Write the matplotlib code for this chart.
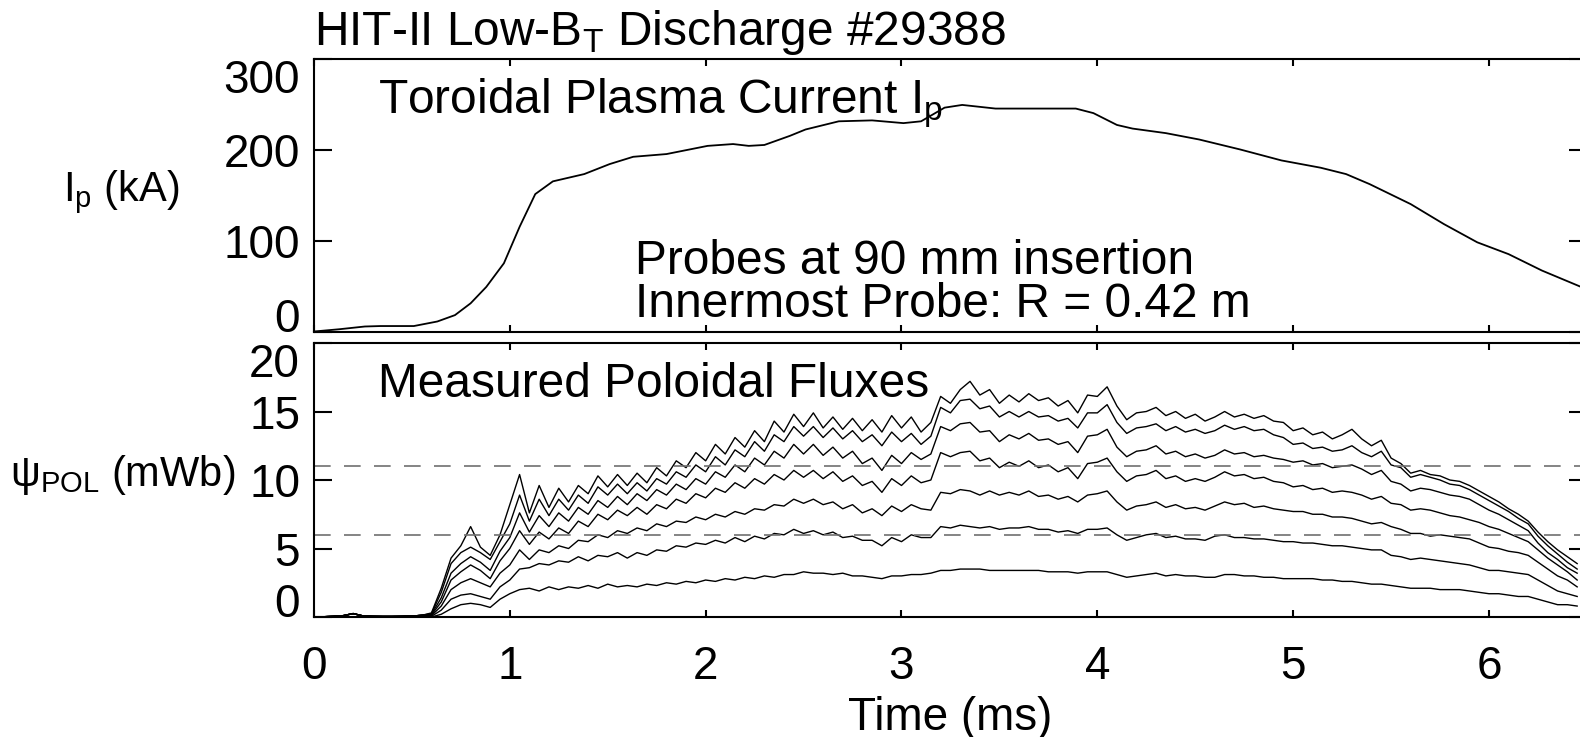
import numpy as np
import matplotlib
matplotlib.use("Agg")
import matplotlib.pyplot as plt

plt.rcParams['font.family'] = 'Liberation Sans'
plt.rcParams['mathtext.fontset'] = 'custom'
plt.rcParams['mathtext.rm'] = 'Liberation Sans'
plt.rcParams['mathtext.it'] = 'Liberation Sans:italic'

# Corrente de plasma (kA)
ip_t = [0.0, 0.13, 0.26, 0.34, 0.51, 0.63, 0.72, 0.80, 0.88, 0.97,
        1.05, 1.13, 1.22, 1.38, 1.51, 1.63, 1.80, 2.01, 2.14, 2.22,
        2.30, 2.43, 2.51, 2.68, 2.85, 3.01, 3.10, 3.22, 3.31, 3.48,
        3.68, 3.89, 3.98, 4.10, 4.18, 4.35, 4.52, 4.73, 4.94, 5.14,
        5.27, 5.39, 5.60, 5.77, 5.94, 6.10, 6.27, 6.47]
ip_ka = [0, 2.5, 5.5, 6, 6, 11, 18, 31, 49, 75,
         115, 151, 165, 173, 184, 192, 195, 204, 206, 204,
         205, 215, 222, 231, 232, 229, 231, 246, 249, 245,
         245, 245, 240, 227, 223, 218, 211, 200, 188, 180,
         173, 162, 140, 118, 98, 85, 67, 49]

# Fluxos poloidais (mWb), amostrados a cada 0.05 ms de 0 a 6.45 ms
t_flux = np.linspace(0, 6.45, 130)
pre = [0.0, 0.02, 0.05, 0.1, 0.25, 0.08, 0.05, 0.04, 0.04, 0.05, 0.07, 0.12]

flux_a = pre + [
    0.3, 2.1, 4.3, 5.2, 6.6, 5.1, 4.5, 6.0, 8.2, 10.4,
    7.6, 9.6, 8.0, 9.4, 8.4, 9.6, 9.0, 10.3, 9.5, 10.4,
    9.6, 10.5, 9.8, 10.9, 10.3, 11.4, 10.9, 12.0, 11.4, 12.6,
    11.9, 13.1, 12.4, 13.6, 12.8, 14.3, 13.5, 14.8, 13.9, 14.9,
    13.8, 14.6, 13.7, 14.5, 13.6, 14.4, 13.5, 14.7, 13.8, 14.6,
    13.5, 14.2, 16.1, 15.6, 16.6, 17.2, 16.2, 16.6, 15.6, 16.2,
    15.7, 16.3, 15.8, 16.0, 15.4, 15.8, 14.9, 16.2, 16.1, 16.8,
    15.4, 14.4, 14.9, 15.0, 15.3, 14.7, 15.0, 14.5, 14.8, 14.3,
    14.6, 15.0, 14.6, 14.8, 14.5, 14.7, 14.3, 14.2, 13.6, 13.8,
    13.3, 13.5, 13.0, 13.3, 13.7, 13.0, 12.5, 12.9, 11.6, 11.2,
    10.5, 10.7, 10.4, 10.3, 10.0, 9.9, 9.6, 9.2, 8.8, 8.4,
    7.9, 7.5, 7.0, 6.2, 5.5, 4.9, 4.4, 3.9]
flux_b = pre + [
    0.25, 1.8, 3.9, 4.7, 5.1, 4.7, 4.2, 5.5, 6.8, 8.9,
    7.0, 8.6, 7.4, 8.6, 7.8, 8.9, 8.3, 9.5, 8.9, 9.7,
    9.0, 9.8, 9.2, 10.1, 9.7, 10.6, 10.2, 11.1, 10.6, 11.7,
    11.1, 12.2, 11.7, 12.8, 12.1, 13.3, 12.8, 13.9, 13.2, 13.9,
    13.1, 13.8, 13.0, 13.6, 12.8, 13.3, 12.5, 13.5, 12.8, 13.4,
    12.6, 13.2, 15.3, 14.9, 15.8, 15.9, 15.2, 15.4, 14.6, 15.0,
    14.6, 15.0, 14.6, 14.7, 14.3, 14.5, 13.8, 14.9, 14.9, 15.5,
    14.2, 13.4, 13.8, 13.9, 14.1, 13.6, 13.9, 13.5, 13.7, 13.4,
    13.6, 14.0, 13.7, 13.9, 13.6, 13.7, 13.3, 13.1, 12.6, 12.7,
    12.3, 12.4, 12.1, 12.2, 12.5, 12.0, 11.7, 12.1, 11.1, 10.9,
    10.2, 10.4, 10.2, 10.0, 9.7, 9.6, 9.3, 8.9, 8.5, 8.1,
    7.7, 7.2, 6.8, 5.9, 5.2, 4.6, 4.0, 3.5]
flux_c = pre + [
    0.2, 1.4, 3.2, 3.9, 4.4, 4.0, 3.4, 4.8, 5.8, 7.6,
    6.2, 7.4, 6.6, 7.6, 7.0, 8.0, 7.5, 8.5, 8.0, 8.8,
    8.2, 9.0, 8.5, 9.3, 8.9, 9.7, 9.3, 10.1, 9.7, 10.6,
    10.2, 11.1, 10.6, 11.6, 11.1, 12.1, 11.6, 12.6, 11.9, 12.6,
    11.8, 12.4, 11.6, 12.1, 11.2, 11.6, 10.7, 11.8, 11.2, 12.0,
    11.5, 11.9, 13.9, 13.6, 14.1, 14.2, 13.5, 13.6, 12.8, 13.3,
    13.0, 13.4, 12.9, 13.0, 12.6, 12.8, 12.0, 13.2, 13.3, 13.7,
    12.4, 11.7, 12.1, 12.2, 12.5, 11.9, 12.1, 11.7, 11.9, 11.6,
    11.8, 12.2, 11.9, 12.0, 11.7, 11.8, 11.6, 11.5, 11.3, 11.4,
    11.1, 11.2, 10.9, 11.0, 11.1, 10.8, 10.4, 10.7, 9.9, 9.7,
    9.2, 9.4, 9.3, 9.1, 8.9, 8.8, 8.6, 8.2, 7.8, 7.5,
    7.1, 6.7, 6.3, 5.4, 4.7, 4.2, 3.6, 3.2]
flux_d = pre + [
    0.15, 1.1, 2.7, 3.3, 3.8, 3.4, 2.8, 4.1, 5.0, 6.3,
    5.3, 6.2, 5.7, 6.5, 6.1, 7.0, 6.6, 7.5, 7.1, 7.8,
    7.4, 8.0, 7.5, 8.2, 7.9, 8.6, 8.3, 9.0, 8.7, 9.4,
    9.1, 9.8, 9.4, 10.1, 9.7, 10.4, 10.0, 10.7, 10.2, 10.7,
    10.1, 10.6, 9.9, 10.3, 9.6, 9.9, 9.1, 10.1, 9.6, 10.3,
    9.8, 10.0, 12.0, 11.7, 12.0, 12.1, 11.4, 11.6, 10.9, 11.3,
    11.0, 11.4, 10.9, 11.1, 10.6, 10.9, 10.1, 11.2, 11.3, 11.6,
    10.6, 9.9, 10.3, 10.4, 10.7, 10.1, 10.3, 9.9, 10.1, 9.9,
    10.2, 10.6, 10.3, 10.4, 10.1, 10.2, 9.9, 9.8, 9.5, 9.6,
    9.3, 9.4, 9.1, 9.2, 9.1, 8.9, 8.6, 8.8, 8.3, 8.2,
    7.8, 7.9, 7.8, 7.6, 7.4, 7.3, 7.1, 6.9, 6.6, 6.4,
    6.1, 5.8, 5.5, 4.9, 4.3, 3.8, 3.3, 2.7]
flux_e = pre + [
    0.1, 0.8, 2.0, 2.5, 2.8, 2.5, 2.2, 3.2, 3.8, 4.9,
    4.2, 4.9, 4.7, 5.2, 5.0, 5.6, 5.5, 6.0, 5.8, 6.3,
    6.1, 6.5, 6.3, 6.8, 6.6, 7.0, 6.9, 7.3, 7.1, 7.5,
    7.3, 7.7, 7.5, 7.9, 7.8, 8.2, 8.1, 8.6, 8.3, 8.6,
    8.2, 8.4, 7.9, 8.2, 7.6, 7.9, 7.4, 8.1, 7.7, 8.2,
    7.9, 7.8, 9.1, 9.0, 9.3, 9.2, 8.9, 9.2, 8.9, 9.1,
    8.9, 9.2, 8.8, 8.9, 8.6, 8.8, 8.4, 8.9, 9.0, 9.2,
    8.4, 7.8, 8.1, 8.2, 8.4, 8.0, 8.2, 7.9, 8.0, 7.8,
    8.1, 8.4, 8.2, 8.3, 8.0, 8.1, 7.9, 7.8, 7.7, 7.7,
    7.5, 7.5, 7.3, 7.3, 7.2, 7.0, 6.8, 6.9, 6.6, 6.4,
    6.1, 6.1, 5.9, 6.0, 5.9, 5.8, 5.7, 5.4, 5.1, 5.0,
    4.8, 4.7, 4.5, 4.0, 3.5, 3.0, 2.7, 2.2]
flux_f = pre + [
    0.05, 0.5, 1.3, 1.6, 1.7, 1.5, 1.3, 2.2, 2.7, 3.5,
    3.6, 3.9, 3.8, 4.1, 4.0, 4.4, 4.1, 4.5, 4.4, 4.7,
    4.3, 4.7, 4.5, 4.9, 4.8, 5.2, 5.1, 5.4, 5.3, 5.6,
    5.4, 5.8, 5.5, 5.9, 5.7, 6.1, 6.0, 6.4, 6.1, 6.3,
    6.0, 6.2, 5.8, 5.9, 5.6, 5.6, 5.2, 5.8, 5.5, 6.0,
    5.8, 5.8, 6.6, 6.5, 6.7, 6.6, 6.5, 6.6, 6.4, 6.5,
    6.5, 6.6, 6.4, 6.4, 6.2, 6.3, 6.1, 6.4, 6.4, 6.5,
    6.0, 5.6, 5.8, 6.0, 6.1, 5.8, 5.9, 5.7, 5.7, 5.6,
    5.9, 6.0, 5.8, 5.8, 5.7, 5.7, 5.6, 5.5, 5.5, 5.4,
    5.4, 5.3, 5.2, 5.2, 5.1, 5.0, 4.9, 4.9, 4.5, 4.4,
    4.2, 4.3, 4.2, 4.1, 4.0, 3.9, 3.8, 3.6, 3.4, 3.4,
    3.3, 3.2, 3.1, 2.7, 2.3, 1.9, 1.7, 1.5]
flux_g = pre + [
    0.0, 0.2, 0.6, 0.9, 1.0, 0.9, 0.7, 1.3, 1.7, 2.0,
    2.1, 1.9, 2.2, 2.0, 2.2, 2.1, 2.3, 2.1, 2.4, 2.2,
    2.3, 2.2, 2.4, 2.3, 2.5, 2.4, 2.6, 2.5, 2.7, 2.6,
    2.8, 2.7, 2.9, 2.8, 3.0, 2.9, 3.1, 3.1, 3.3, 3.2,
    3.2, 3.1, 3.2, 3.0, 3.0, 2.9, 2.8, 3.0, 3.0, 3.1,
    3.1, 3.2, 3.4, 3.4, 3.5, 3.5, 3.5, 3.4, 3.4, 3.4,
    3.4, 3.4, 3.4, 3.3, 3.3, 3.3, 3.2, 3.3, 3.3, 3.3,
    3.1, 2.9, 3.0, 3.1, 3.2, 3.0, 3.1, 3.0, 3.0, 2.9,
    2.9, 3.1, 3.1, 3.0, 3.0, 2.9, 2.9, 2.8, 2.8, 2.8,
    2.8, 2.7, 2.7, 2.6, 2.6, 2.5, 2.4, 2.4, 2.3, 2.2,
    2.1, 2.1, 2.1, 2.0, 2.0, 2.0, 1.9, 1.8, 1.7, 1.7,
    1.6, 1.5, 1.5, 1.3, 1.1, 0.9, 0.9, 0.8]
fluxes = [flux_a, flux_b, flux_c, flux_d, flux_e, flux_f, flux_g]

# Linhas tracejadas de referencia (mWb)
ref_levels = [11, 6]

fs = 33        # numeros dos eixos
fs_txt = 34.5  # textos dentro dos paineis
fs_lab = 30    # rotulos do eixo y

fig = plt.figure(figsize=(15.8, 7.37), dpi=100)
ax1 = fig.add_axes([0.1987, 0.5502, 0.8057, 0.3704])
ax2 = fig.add_axes([0.1987, 0.1628, 0.8057, 0.3718])

ax1.plot(ip_t, ip_ka, color='black', lw=1.3)
for f in fluxes:
    ax2.plot(t_flux, f, color='black', lw=1.0)
for lev in ref_levels:
    ax2.axhline(lev, color='#707070', lw=1.2, dashes=(10, 8))

ax1.set_ylim(0, 300)
ax2.set_ylim(0, 20)
ax1.set_yticks([0, 100, 200, 300])
ax2.set_yticks([0, 5, 10, 15, 20])
for ax in (ax1, ax2):
    ax.set_xlim(0, 6.5)
    ax.set_xticks([0, 1, 2, 3, 4, 5, 6])
    ax.tick_params(axis='both', direction='in', top=True, right=True,
                   labelsize=fs, width=1.5)
    ax.tick_params(axis='y', length=13, pad=10)
    ax.tick_params(axis='x', length=5, pad=20)
    for s in ax.spines.values():
        s.set_linewidth(1.5)
    yt = ax.yaxis.get_major_ticks()
    yt[0].label1.set_verticalalignment('baseline')
    yt[-1].label1.set_verticalalignment('top')
ax1.tick_params(axis='x', labelbottom=False)

ax1.text(0.0503, 0.801, 'Toroidal Plasma Current I$_\\mathrm{p}$',
         transform=ax1.transAxes, fontsize=fs_txt, va='baseline')
# duas linhas num unico texto
ax1.text(0.252, 0.017, 'Probes at 90 mm insertion\nInnermost Probe: R = 0.42 m',
         transform=ax1.transAxes, fontsize=fs_txt, va='bottom',
         linespacing=0.95)
ax2.text(0.0503, 0.804, 'Measured Poloidal Fluxes',
         transform=ax2.transAxes, fontsize=fs_txt, va='baseline')

ax1.set_ylabel('I$_\\mathrm{p}$ (kA)', fontsize=fs_lab, rotation=0,
               ha='center', va='center')
ax1.yaxis.set_label_coords(-0.151, 0.51)
ax2.set_ylabel('ψ$_\\mathrm{POL}$ (mWb)', fontsize=fs_lab, rotation=0,
               ha='center', va='center')
ax2.yaxis.set_label_coords(-0.150, 0.52)
ax2.set_xlabel('Time (ms)', fontsize=fs, labelpad=5)

fig.text(0.1987, 1 - 45 / 737, 'HIT-II Low-B$_\\mathrm{T}$ Discharge #29388',
         fontsize=34.5, va='baseline')

fig.savefig('out.png', dpi=100)
